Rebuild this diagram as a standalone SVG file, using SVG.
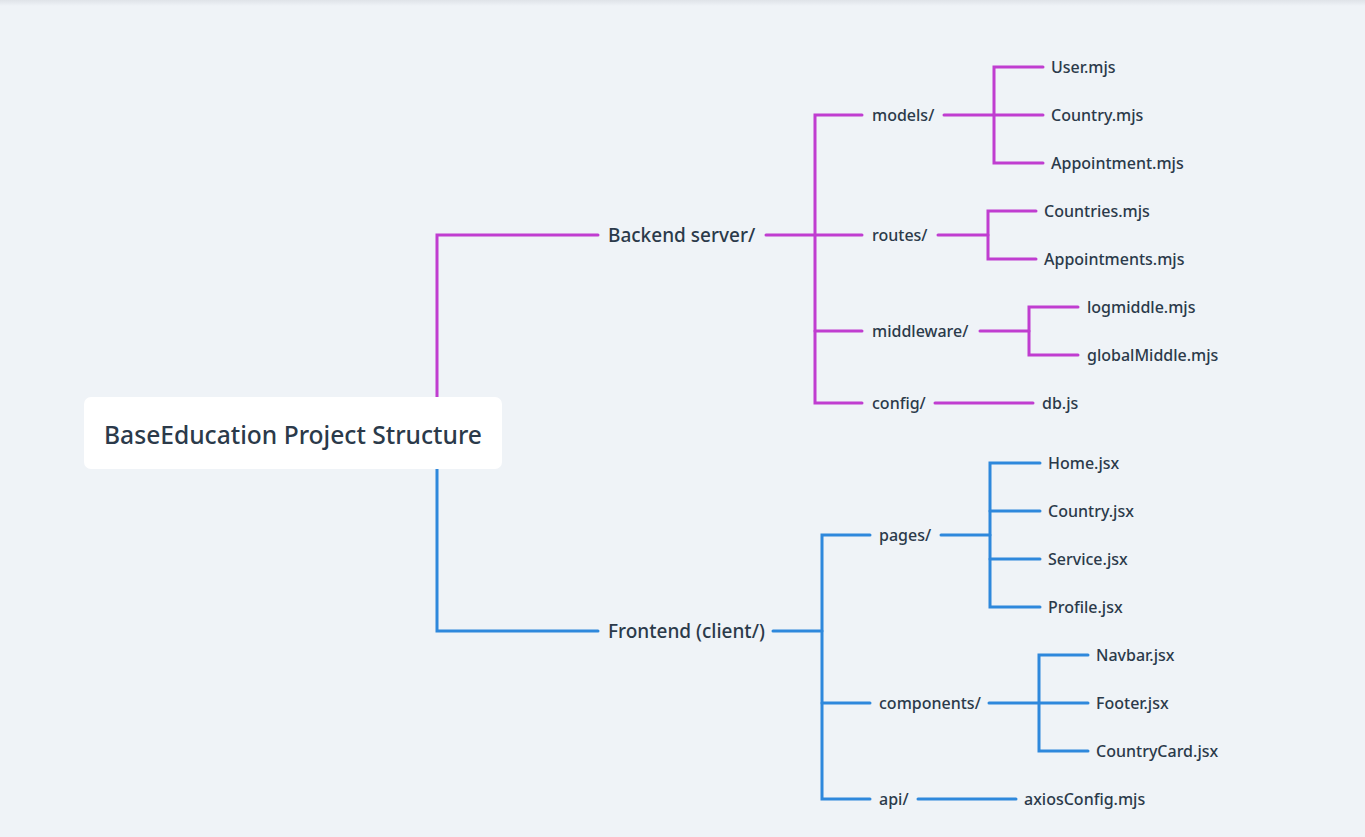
<svg xmlns="http://www.w3.org/2000/svg" width="1365" height="837" viewBox="0 0 1365 837">
<defs>
<linearGradient id="topShade" x1="0" y1="0" x2="0" y2="1">
<stop offset="0" stop-color="#dfe3e8"/>
<stop offset="1" stop-color="#eff3f7"/>
</linearGradient>
<style>
.bg{fill:#eff3f7}
.lm{fill:none;stroke:#c03dd0;stroke-width:3;stroke-linecap:round;stroke-linejoin:miter}
.lb{fill:none;stroke:#2e88dc;stroke-width:3;stroke-linecap:round;stroke-linejoin:miter}
text{font-family:"Noto Sans","Open Sans","Liberation Sans",sans-serif;fill:#2b3a4a;dominant-baseline:central;font-weight:500}
.t1{font-size:19px}
.t2{font-size:16px}
.root{font-size:24.6px}
</style>
</defs>
<rect class="bg" x="0" y="0" width="1365" height="837"/>
<rect x="0" y="0" width="1365" height="6" fill="url(#topShade)"/>

<g id="connectors">
<!-- Backend -->
<path class="lm" d="M437 398 V235 H598"/>
<path class="lm" d="M766 235 H862"/>
<path class="lm" d="M862 115 H815 V403 H862"/>
<path class="lm" d="M815 331 H862"/>
<path class="lm" d="M944 115 H1043"/>
<path class="lm" d="M1043 67 H994 V163 H1043"/>
<path class="lm" d="M938 235 H988"/>
<path class="lm" d="M1036 211 H988 V259 H1036"/>
<path class="lm" d="M980 331 H1029"/>
<path class="lm" d="M1078 307 H1029 V355 H1078"/>
<path class="lm" d="M935 403 H1033"/>
<!-- Frontend -->
<path class="lb" d="M437 468 V631 H598"/>
<path class="lb" d="M773 631 H822"/>
<path class="lb" d="M870 535 H822 V799 H870"/>
<path class="lb" d="M822 703 H870"/>
<path class="lb" d="M941 535 H990"/>
<path class="lb" d="M1040 463 H990 V607 H1040"/>
<path class="lb" d="M990 511 H1040"/>
<path class="lb" d="M990 559 H1040"/>
<path class="lb" d="M989 703 H1088"/>
<path class="lb" d="M1088 655 H1039 V751 H1088"/>
<path class="lb" d="M918 799 H1016"/>
</g>

<g id="root">
<rect x="84" y="397" width="418" height="72" rx="7" fill="#ffffff"/>
<text class="root" x="293" y="434" text-anchor="middle">BaseEducation Project Structure</text>
</g>

<g id="backend"><text class="t1" x="608" y="235">Backend server/</text></g>
<g id="models"><text class="t2" x="872" y="115">models/</text></g>
<g id="user"><text class="t2" x="1051" y="67">User.mjs</text></g>
<g id="country-mjs"><text class="t2" x="1051" y="115">Country.mjs</text></g>
<g id="appointment"><text class="t2" x="1051" y="163">Appointment.mjs</text></g>
<g id="routes"><text class="t2" x="872" y="235">routes/</text></g>
<g id="countries"><text class="t2" x="1044" y="211">Countries.mjs</text></g>
<g id="appointments"><text class="t2" x="1044" y="259">Appointments.mjs</text></g>
<g id="middleware"><text class="t2" x="872" y="331">middleware/</text></g>
<g id="logmiddle"><text class="t2" x="1087" y="307">logmiddle.mjs</text></g>
<g id="globalmiddle"><text class="t2" x="1087" y="355">globalMiddle.mjs</text></g>
<g id="config"><text class="t2" x="872" y="403">config/</text></g>
<g id="dbjs"><text class="t2" x="1042" y="403">db.js</text></g>

<g id="frontend"><text class="t1" x="608" y="631">Frontend (client/)</text></g>
<g id="pages"><text class="t2" x="879" y="535">pages/</text></g>
<g id="home"><text class="t2" x="1048" y="463">Home.jsx</text></g>
<g id="country-jsx"><text class="t2" x="1048" y="511">Country.jsx</text></g>
<g id="service"><text class="t2" x="1048" y="559">Service.jsx</text></g>
<g id="profile"><text class="t2" x="1048" y="607">Profile.jsx</text></g>
<g id="components"><text class="t2" x="879" y="703">components/</text></g>
<g id="navbar"><text class="t2" x="1096" y="655">Navbar.jsx</text></g>
<g id="footer"><text class="t2" x="1096" y="703">Footer.jsx</text></g>
<g id="countrycard"><text class="t2" x="1096" y="751">CountryCard.jsx</text></g>
<g id="api"><text class="t2" x="879" y="799">api/</text></g>
<g id="axios"><text class="t2" x="1024" y="799">axiosConfig.mjs</text></g>
</svg>
